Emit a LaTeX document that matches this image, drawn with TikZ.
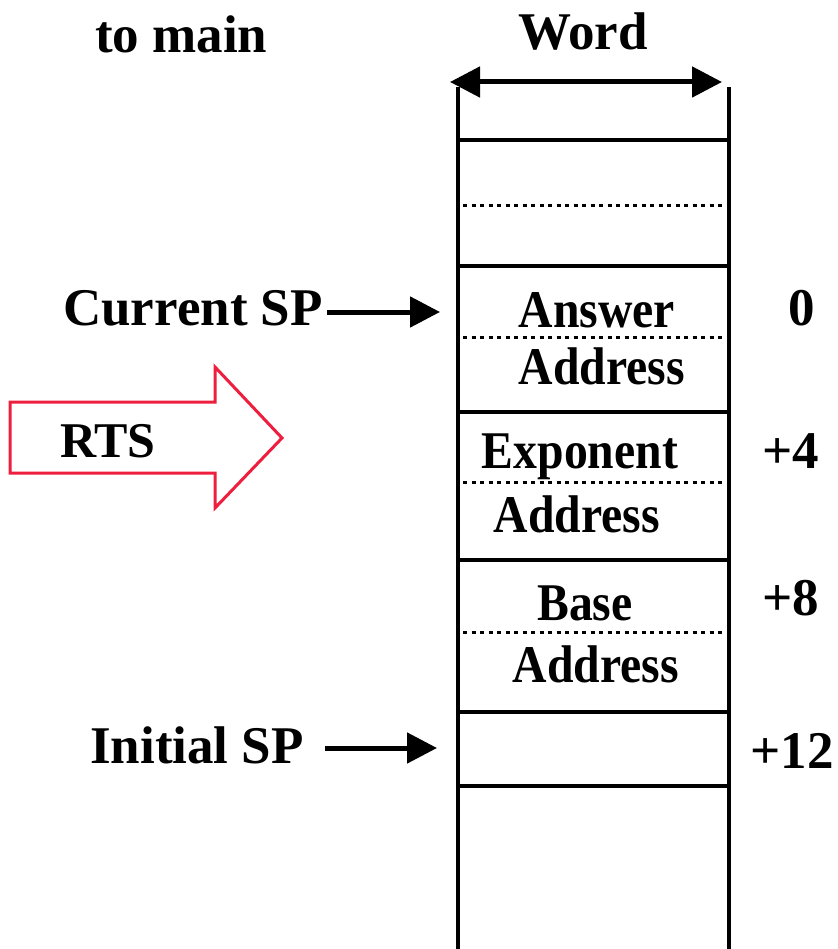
\documentclass[tikz,border=0pt]{standalone}
\usepackage{fontspec}
\setmainfont{Liberation Serif}
\usetikzlibrary{arrows.meta}
\definecolor{rtsred}{RGB}{238,30,62}
\begin{document}
\begin{tikzpicture}[x=1pt,y=-1pt,
  big/.style={font=\fontsize{53}{60}\selectfont\bfseries, inner sep=0pt},
  celltext/.style={font=\fontsize{53}{60}\selectfont\bfseries, inner sep=0pt, anchor=base},
  wall/.style={line width=4.5pt},
  rule/.style={line width=4pt},
  halfrule/.style={line width=3pt, dash pattern=on 4pt off 4.5pt},
  pointer/.style={line width=5pt, -{Triangle[length=30pt,width=30pt]}},
  widtharrow/.style={line width=5pt, {Triangle[length=30pt,width=30pt]}-{Triangle[length=30pt,width=30pt]}},
  bigarrow/.style={draw=rtsred, line width=3pt, fill=white, line join=miter}]
\useasboundingbox (0,0) rectangle (837,949);

% headings
\node[big, anchor=base west] (tomain) at (95,53) {to main};
\node[big, anchor=base] (word) at (583,50) {Word};

% word-width arrow
\coordinate (wl) at (450,82);
\coordinate (wr) at (722,82);
\draw[widtharrow] (wl) -- (wr);

% stack walls
\draw[wall] (458,87) -- (458,949);
\draw[wall] (729,87) -- (729,949);

% word boundaries
\foreach \y in {140,266,412,560,712,786}
  \draw[rule] (456,\y) -- (731,\y);

% half-word boundaries
\foreach \y in {206,337,482,632}
  \draw[halfrule] (463,\y) -- (724,\y);

% stack contents
\node[celltext] (ans) at (597,327) {\scalebox{0.9}[1]{Answer}};
\node[celltext] (ansadr) at (602,384) {\scalebox{0.9}[1]{Address}};
\node[celltext] (exp) at (580,468) {\scalebox{0.9}[1]{Exponent}};
\node[celltext] (expadr) at (577,532) {\scalebox{0.9}[1]{Address}};
\node[celltext] (base) at (585,620) {\scalebox{0.9}[1]{Base}};
\node[celltext] (baseadr) at (596,682) {\scalebox{0.9}[1]{Address}};

% offsets
\node[big, anchor=base] (off0) at (802,325) {0};
\node[big, anchor=base] (off4) at (791,468) {+4};
\node[big, anchor=base] (off8) at (791,615) {+8};
\node[big, anchor=base] (off12) at (792,768) {+12};

% stack pointers
\node[big, anchor=base west] (cur) at (63,325) {Current SP};
\coordinate (curtip) at (440,312);
\draw[pointer] ([xshift=4pt]cur.east |- curtip) -- (curtip);

\node[big, anchor=base west] (ini) at (90,763) {Initial SP};
\coordinate (initail) at (325,748);
\coordinate (initip) at (437,748);
\draw[pointer] (initail) -- (initip);

% return arrow
\draw[bigarrow] (10,402) -- (215,402) -- (215,367) -- (282,438)
  -- (215,508) -- (215,473) -- (10,473) -- cycle;
\node[font=\fontsize{50}{56}\selectfont\bfseries, inner sep=0pt, anchor=base] (rts) at (108,457) {RTS};
\end{tikzpicture}
\end{document}
